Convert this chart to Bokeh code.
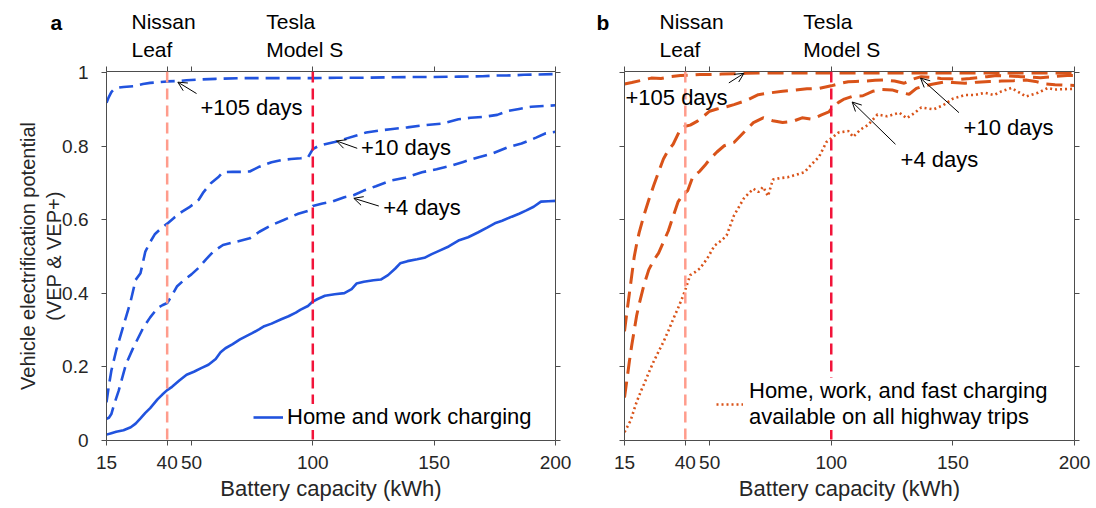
from bokeh.plotting import figure
from bokeh.layouts import row, column
from bokeh.models import (Range1d, FixedTicker, LinearAxis, Span, Label, Arrow,
                          OpenHead, Legend, LegendItem, CustomLabelingPolicy)
from bokeh.embed import file_html
from bokeh.resources import INLINE

# ---- data -----------------------------------------------------------------
x_ticks = [15, 40, 50, 100, 150, 200]
y_ticks = [0, 0.2, 0.4, 0.6, 0.8, 1]
nissan_leaf_kwh = 40
tesla_s_kwh = 100

# Panel a: home and work charging (VEP) and VEP+ with extra days
home_work_x = [15, 17, 19, 22, 25, 27, 29, 31, 33, 36, 38, 40, 42, 45, 48, 51, 54, 57, 60, 62,
               64, 67, 70, 72, 75, 78, 80, 83, 87, 90, 93, 95, 98, 100, 102, 105, 109, 113, 116, 118,
               121, 125, 128, 131, 134, 136, 139, 143, 146, 149, 152, 156, 160, 164, 168, 172, 175, 178, 182, 185,
               188, 191, 194, 197, 200]
home_work_y = [0.016, 0.020, 0.024, 0.028, 0.036, 0.046, 0.060, 0.075, 0.088, 0.112,
               0.125, 0.137, 0.146, 0.163, 0.179, 0.187, 0.197, 0.206, 0.222, 0.240,
               0.251, 0.262, 0.275, 0.282, 0.292, 0.303, 0.311, 0.318, 0.330, 0.338,
               0.348, 0.356, 0.366, 0.378, 0.385, 0.394, 0.398, 0.401, 0.412, 0.427,
               0.432, 0.436, 0.438, 0.450, 0.468, 0.482, 0.488, 0.493, 0.497, 0.507,
               0.516, 0.528, 0.544, 0.553, 0.566, 0.580, 0.591, 0.598, 0.609, 0.617,
               0.626, 0.636, 0.650, 0.651, 0.652]

a_plus4_x = [15, 16, 17, 18, 20, 23, 26, 30, 33, 36, 38, 40, 42, 44, 47, 50, 53, 56, 59, 63,
             68, 74, 78, 83, 88, 94, 98, 100, 104, 108, 113, 117, 121, 126, 132, 138, 145, 151, 157, 162,
             168, 174, 180, 186, 192, 196, 200]
a_plus4_y = [0.059, 0.062, 0.072, 0.095, 0.135, 0.207, 0.252, 0.305, 0.335, 0.360,
             0.368, 0.374, 0.395, 0.419, 0.437, 0.452, 0.470, 0.493, 0.514, 0.532,
             0.540, 0.550, 0.568, 0.586, 0.600, 0.617, 0.625, 0.638, 0.645, 0.650,
             0.662, 0.668, 0.680, 0.692, 0.707, 0.715, 0.730, 0.738, 0.748, 0.758,
             0.770, 0.781, 0.797, 0.808, 0.824, 0.836, 0.840]

a_plus10_x = [15, 16, 17, 19, 21, 23, 25, 27, 29, 31, 33, 35, 38, 40, 43, 46, 49, 51, 53, 55,
              58, 61, 63, 67, 71, 74, 78, 83, 87, 91, 95, 98, 100, 102, 105, 109, 113, 118, 122, 127,
              132, 139, 146, 153, 160, 165, 171, 176, 180, 185, 190, 195, 200]
a_plus10_y = [0.104, 0.150, 0.190, 0.245, 0.290, 0.335, 0.380, 0.437, 0.455, 0.514,
              0.540, 0.562, 0.580, 0.590, 0.607, 0.622, 0.634, 0.644, 0.655, 0.676,
              0.700, 0.716, 0.730, 0.731, 0.731, 0.732, 0.745, 0.757, 0.763, 0.766,
              0.768, 0.770, 0.793, 0.800, 0.806, 0.812, 0.820, 0.830, 0.838, 0.843,
              0.847, 0.852, 0.858, 0.862, 0.874, 0.878, 0.881, 0.886, 0.896, 0.902,
              0.908, 0.910, 0.912]

a_plus105_x = [15, 16, 17, 18, 20, 22, 26, 30, 33, 37, 40, 44, 48, 53, 60, 70, 80, 90, 100, 110,
               120, 130, 140, 150, 160, 170, 175, 180, 187, 193, 200]
a_plus105_y = [0.919, 0.935, 0.948, 0.955, 0.960, 0.962, 0.964, 0.970, 0.973, 0.975,
               0.977, 0.978, 0.980, 0.982, 0.984, 0.986, 0.986, 0.986, 0.986, 0.987,
               0.987, 0.988, 0.989, 0.989, 0.990, 0.991, 0.993, 0.993, 0.995, 0.996,
               0.997]

# Panel b: home, work and fast charging on highway trips, plus extra days
fast_x = [15, 16, 17.5, 19, 20, 22, 23, 25, 27, 29, 31, 33, 35, 37, 39, 40, 41, 42, 44, 46,
          49, 52, 55, 57, 60, 62, 64, 66, 68, 70, 72, 74, 76, 79, 82, 85, 89, 92, 95, 98,
          100, 103, 107, 109, 112, 115, 119, 123, 128, 131, 134, 137, 142, 146, 150, 155, 159, 163, 167, 170,
          174, 177, 180, 185, 189, 192, 196, 200]
fast_y = [0.023, 0.035, 0.054, 0.085, 0.105, 0.138, 0.153, 0.185, 0.215, 0.242,
          0.268, 0.298, 0.330, 0.360, 0.392, 0.410, 0.430, 0.450, 0.458, 0.468,
          0.495, 0.530, 0.545, 0.558, 0.612, 0.635, 0.658, 0.672, 0.685, 0.676,
          0.690, 0.665, 0.710, 0.714, 0.716, 0.722, 0.730, 0.752, 0.772, 0.812,
          0.822, 0.838, 0.842, 0.826, 0.846, 0.858, 0.887, 0.882, 0.892, 0.877,
          0.890, 0.906, 0.901, 0.912, 0.930, 0.940, 0.940, 0.946, 0.940, 0.950,
          0.959, 0.948, 0.936, 0.946, 0.959, 0.955, 0.956, 0.957]

b_plus4_x = [15, 16, 17, 18, 19, 20, 21, 23, 25, 27, 29, 31, 33, 35, 37, 39, 41, 43, 46, 48,
             50, 53, 56, 60, 64, 68, 72, 76, 80, 84, 88, 92, 96, 99, 101, 103, 105, 109, 113, 117,
             121, 125, 129, 132, 135, 138, 142, 146, 150, 155, 160, 165, 170, 175, 180, 184, 188, 192, 196, 200]
b_plus4_y = [0.117, 0.165, 0.215, 0.260, 0.300, 0.340, 0.370, 0.423, 0.465, 0.490,
             0.510, 0.540, 0.570, 0.610, 0.649, 0.668, 0.680, 0.716, 0.733, 0.748,
             0.765, 0.785, 0.802, 0.811, 0.838, 0.865, 0.878, 0.870, 0.865, 0.868,
             0.878, 0.874, 0.886, 0.894, 0.910, 0.920, 0.928, 0.937, 0.938, 0.950,
             0.955, 0.954, 0.946, 0.942, 0.958, 0.965, 0.970, 0.975, 0.974, 0.972,
             0.975, 0.977, 0.978, 0.979, 0.981, 0.977, 0.970, 0.968, 0.967, 0.966]

b_plus10_x = [15, 16, 17, 18, 19, 20, 21, 23, 25, 27, 29, 31, 33, 35, 38, 40, 42, 45, 48, 50,
              53, 57, 60, 65, 70, 75, 80, 85, 90, 95, 100, 104, 107, 110, 114, 118, 122, 126, 130, 133,
              137, 141, 145, 149, 153, 157, 160, 164, 168, 173, 178, 182, 186, 190, 194, 197, 200]
b_plus10_y = [0.297, 0.350, 0.400, 0.450, 0.500, 0.535, 0.565, 0.613, 0.655, 0.694,
              0.730, 0.766, 0.790, 0.806, 0.847, 0.855, 0.858, 0.869, 0.885, 0.896,
              0.902, 0.908, 0.914, 0.925, 0.941, 0.946, 0.950, 0.953, 0.957, 0.958,
              0.965, 0.972, 0.976, 0.977, 0.978, 0.980, 0.981, 0.978, 0.972, 0.982,
              0.990, 0.988, 0.985, 0.984, 0.983, 0.985, 0.987, 0.990, 0.993, 0.992,
              0.990, 0.989, 0.987, 0.989, 0.992, 0.993, 0.993]

b_plus105_x = [15, 18, 22, 26, 30, 34, 38, 42, 46, 50, 55, 60, 65, 70, 80, 100, 120, 140, 160, 180, 200]
b_plus105_y = [0.970, 0.974, 0.980, 0.986, 0.985, 0.990, 0.993, 0.994, 0.996, 0.996,
               0.997, 0.998, 0.999, 1.0, 1.0, 1.0, 1.0, 1.0, 1.0, 1.0, 1.0]

# ---- styling ----------------------------------------------------------------
FONT = "Liberation Sans"
BLUE = "#2153DE"
ORANGE = "#D95319"
LEAF_COLOR = "#FF9C8C"
TESLA_COLOR = "#F2143A"
AXIS_COLOR = "#4D4D4D"
TEXT_COLOR = "#262626"

PAGE_W = 1096
HEADER_H = 62      # strip above the panels holding car names and panel letters
TOP_BORDER = 8     # gap between that strip and each plotting frame
X_LO, X_HI = 15, 200
Y_LO, Y_HI = 0, 1.004

# panel geometry: (total width, left border, right border)
PANEL_A = (590, 106, 35)
PANEL_B = (506, 34, 22)

# box axes carry tick marks only: drop every label before it is drawn
NO_LABELS_JS = """
for (const i of Array.from(indices)) {
    indices.unset(i)
}
return indices
"""


def style_axis(ax, show_labels):
    ax.axis_line_color = AXIS_COLOR
    ax.axis_line_width = 1
    ax.major_tick_line_color = AXIS_COLOR
    ax.major_tick_out = 5
    ax.major_tick_in = 0
    ax.minor_tick_line_color = None
    ax.major_label_text_font = FONT
    ax.major_label_text_color = TEXT_COLOR
    ax.major_label_text_font_size = "19px"
    ax.axis_label_text_font = FONT
    ax.axis_label_text_color = TEXT_COLOR
    ax.axis_label_text_font_style = "normal"
    if not show_labels:
        ax.major_label_policy = CustomLabelingPolicy(code=NO_LABELS_JS)
        ax.major_label_standoff = 0
        ax.major_label_text_font_size = "1px"


def make_panel(geom, y_labels):
    width, border_left, border_right = geom
    p = figure(width=width, height=508 - HEADER_H, output_backend="svg", toolbar_location=None,
               x_range=Range1d(X_LO, X_HI), y_range=Range1d(Y_LO, Y_HI),
               min_border_left=border_left, min_border_right=border_right,
               min_border_top=TOP_BORDER, min_border_bottom=68,
               background_fill_color="white", border_fill_color="white")
    p.outline_line_color = None
    p.xgrid.grid_line_color = None
    p.ygrid.grid_line_color = None

    p.xaxis.ticker = FixedTicker(ticks=x_ticks)
    p.yaxis.ticker = FixedTicker(ticks=y_ticks)
    p.yaxis.major_label_overrides = {0: "0", 1: "1"}
    style_axis(p.xaxis[0], True)
    style_axis(p.yaxis[0], y_labels)
    p.xaxis.axis_label = "Battery capacity (kWh)"
    p.xaxis.axis_label_text_font_size = "22px"
    p.xaxis.major_label_standoff = 10
    p.xaxis.axis_label_standoff = 4
    if y_labels:
        p.yaxis.major_label_standoff = 13

    top = LinearAxis(ticker=FixedTicker(ticks=x_ticks))
    right = LinearAxis(ticker=FixedTicker(ticks=y_ticks))
    style_axis(top, False)
    style_axis(right, False)
    p.add_layout(top, "above")
    p.add_layout(right, "right")
    return p


def kwh_to_page_x(kwh, geom, page_offset):
    # horizontal page position of a capacity value inside a panel
    width, border_left, border_right = geom
    frame_w = width - border_left - border_right
    return page_offset + border_left + (kwh - X_LO) * frame_w / (X_HI - X_LO)


def value_to_header_y(v):
    # the header strip continues the panels' vertical scale above the frame
    # (header y runs downward from its top edge)
    frame_h = 508 - HEADER_H - TOP_BORDER - 68
    return HEADER_H + TOP_BORDER - (v - Y_HI) * frame_h / (Y_HI - Y_LO)


def add_car_lines(p):
    p.add_layout(Span(location=nissan_leaf_kwh, dimension="height", line_color=LEAF_COLOR,
                      line_width=2.5, line_dash="11 6"))
    p.add_layout(Span(location=tesla_s_kwh, dimension="height", line_color=TESLA_COLOR,
                      line_width=2.5, line_dash="11 6"))


def add_text(p, x, y, text, size="22px", baseline="middle", bold=False):
    p.add_layout(Label(x=x, y=y, text=text, text_font=FONT, text_font_size=size,
                       text_color="black", text_baseline=baseline, text_align="left",
                       text_font_style="bold" if bold else "normal"))


def add_arrow(p, xs, ys, xe, ye):
    p.add_layout(Arrow(end=OpenHead(size=9, line_width=1, line_color="black"),
                       x_start=xs, y_start=ys, x_end=xe, y_end=ye,
                       line_width=1, line_color="black"))


# ---- panel a ------------------------------------------------------------------
pa = make_panel(PANEL_A, True)
pa.yaxis[0].axis_label = "Vehicle electrification potential\n(VEP & VEP+)"
pa.yaxis[0].axis_label_text_font_size = "20px"
pa.yaxis[0].axis_label_standoff = -6
add_car_lines(pa)

blue_dash = "14 7"
pa.line(a_plus105_x, a_plus105_y, line_color=BLUE, line_width=2.6, line_dash=blue_dash)
pa.line(a_plus10_x, a_plus10_y, line_color=BLUE, line_width=2.6, line_dash=blue_dash)
pa.line(a_plus4_x, a_plus4_y, line_color=BLUE, line_width=2.6, line_dash=blue_dash)
hw = pa.line(home_work_x, home_work_y, line_color=BLUE, line_width=2.6)

add_arrow(pa, 52.1, 0.944, 44.4, 0.975)
add_text(pa, 53.7, 0.905, "+105 days")
add_arrow(pa, 118.3, 0.795, 109.8, 0.815)
add_text(pa, 119.9, 0.797, "+10 days")
add_arrow(pa, 127.2, 0.638, 116.9, 0.659)
add_text(pa, 129.0, 0.635, "+4 days")

leg_a = Legend(items=[LegendItem(label="Home and work charging", renderers=[hw])],
               location=(147, 10), padding=0, margin=0, spacing=0,
               glyph_width=30, glyph_height=26, label_standoff=4,
               label_text_font=FONT, label_text_font_size="22px", label_text_color="black",
               border_line_color=None, background_fill_color="white", background_fill_alpha=1)
pa.add_layout(leg_a)

# ---- panel b ------------------------------------------------------------------
pb = make_panel(PANEL_B, False)
add_car_lines(pb)

orange_dash = "16 8"
pb.line(b_plus105_x, b_plus105_y, line_color=ORANGE, line_width=3, line_dash=orange_dash)
pb.line(b_plus10_x, b_plus10_y, line_color=ORANGE, line_width=3, line_dash=orange_dash)
pb.line(b_plus4_x, b_plus4_y, line_color=ORANGE, line_width=3, line_dash=orange_dash)
fc = pb.line(fast_x, fast_y, line_color=ORANGE, line_width=2.6, line_dash="2 3")

add_arrow(pb, 57.9, 0.973, 64.1, 0.999)
add_text(pb, 15.4, 0.932, "+105 days")
add_arrow(pb, 152.5, 0.892, 136.7, 0.986)
add_text(pb, 154.4, 0.851, "+10 days")
add_arrow(pb, 126.4, 0.806, 108.6, 0.921)
add_text(pb, 128.5, 0.765, "+4 days")

leg_b = Legend(items=[LegendItem(label="Home, work, and fast charging\navailable on all highway trips",
                                 renderers=[fc])],
               location=(92, 10), padding=0, margin=0, spacing=0,
               glyph_width=27, glyph_height=26, label_standoff=6,
               label_text_font=FONT, label_text_font_size="22px", label_text_color="black",
               border_line_color=None, background_fill_color="white", background_fill_alpha=1)
pb.add_layout(leg_b)

# ---- header strip: car names above each panel and panel letters ----------------
header = figure(width=PAGE_W, height=HEADER_H, output_backend="svg", toolbar_location=None,
                x_range=Range1d(0, PAGE_W), y_range=Range1d(HEADER_H, 0),
                x_axis_location=None, y_axis_location=None, min_border=0,
                background_fill_color="white", border_fill_color="white")
header.outline_line_color = None
header.xgrid.grid_line_color = None
header.ygrid.grid_line_color = None

UPPER_ROW, LOWER_ROW, LETTER_ROW = 1.138, 1.061, 1.134   # text centres on the value scale

for geom, offset, leaf_x, tesla_x, letter, letter_x in [
        (PANEL_A, 0, 25.3, 80.8, "a", -8.1),
        (PANEL_B, PANEL_A[0], 29.4, 88.5, "b", 3.5)]:
    add_text(header, kwh_to_page_x(leaf_x, geom, offset), value_to_header_y(UPPER_ROW), "Nissan",
             size="21px")
    add_text(header, kwh_to_page_x(leaf_x, geom, offset), value_to_header_y(LOWER_ROW), "Leaf",
             size="21px")
    add_text(header, kwh_to_page_x(tesla_x, geom, offset), value_to_header_y(UPPER_ROW), "Tesla",
             size="21px")
    add_text(header, kwh_to_page_x(tesla_x, geom, offset), value_to_header_y(LOWER_ROW), "Model S",
             size="21px")
    add_text(header, kwh_to_page_x(letter_x, geom, offset), value_to_header_y(LETTER_ROW), letter,
             size="21px", bold=True)

layout = column(header, row(pa, pb))
open("out.html", "w").write(file_html(layout, INLINE))
